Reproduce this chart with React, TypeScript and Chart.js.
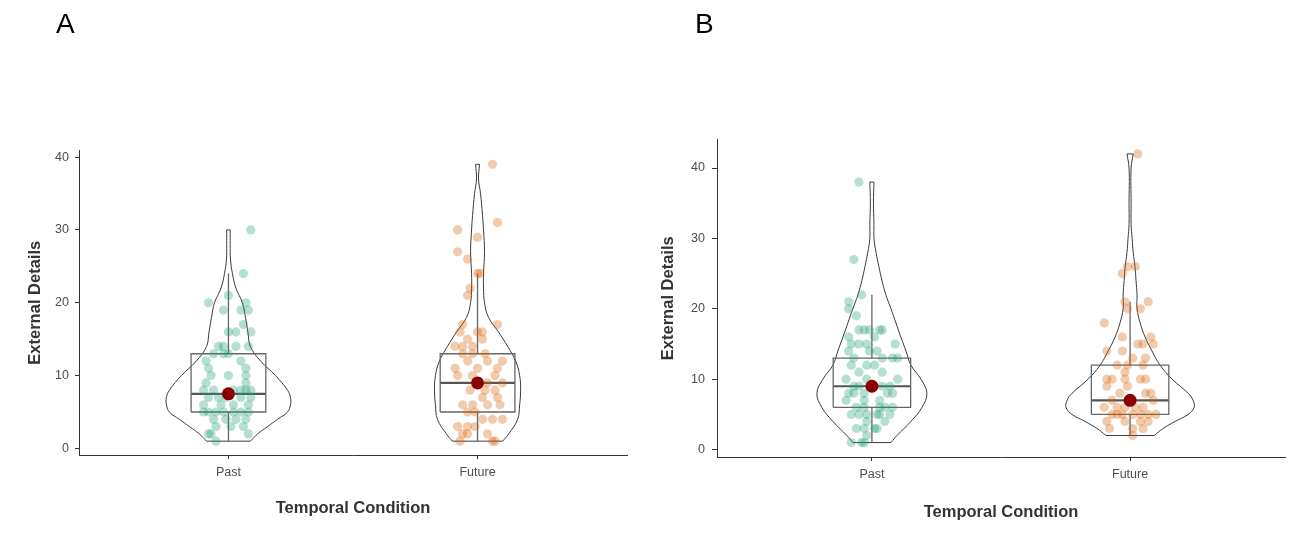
import React, { useEffect, useRef } from 'react';
import { Chart, registerables } from 'chart.js';

Chart.register(...registerables);

// ---------- data ----------
const categories = ['Past', 'Future'];
const yTicks = [0, 10, 20, 30, 40];

// Panel A – Past
const pastAValues = [30, 24, 21, 20, 20, 19, 19, 19, 17, 16, 16, 16, 14, 14, 14, 14, 13, 13, 13, 12, 12, 11, 11, 10, 10, 10, 9, 9, 8, 8, 8, 8, 8, 8, 7, 7, 7, 7, 7, 6, 6, 6, 6, 5, 5, 5, 5, 5, 5, 5, 4, 4, 4, 4, 3, 3, 3, 2, 2, 2, 1];
const pastAJitter = [0.09, 0.06, 0.0, -0.08, 0.07, -0.02, 0.08, 0.05, 0.06, 0.0, 0.03, 0.09, -0.04, -0.02, 0.03, 0.08, -0.06, -0.02, 0.0, -0.09, 0.05, -0.08, 0.07, -0.07, 0.0, 0.07, -0.09, 0.07, -0.1, -0.06, 0.02, 0.05, 0.07, 0.09, -0.08, -0.04, -0.01, 0.05, 0.09, -0.1, -0.03, 0.02, 0.08, -0.1, -0.08, -0.05, -0.02, 0.02, 0.05, 0.08, -0.06, -0.01, 0.03, 0.07, -0.05, 0.01, 0.06, -0.08, -0.07, 0.08, -0.05];
const pastABox = [1, 5, 7.5, 13, 24]; // low whisker, Q1, median, Q3, high whisker
const pastAMean = 7.5;
const pastAViolinY = [1, 2, 3, 4, 5, 6, 7, 8, 10, 12, 14, 16, 18, 20, 22, 24, 26, 28, 30];
const pastAViolinW = [0.088, 0.117, 0.157, 0.197, 0.237, 0.249, 0.249, 0.237, 0.189, 0.129, 0.088, 0.078, 0.068, 0.056, 0.03, 0.016, 0.008, 0.007, 0.007];

// Panel A – Future
const futureAValues = [39, 31, 30, 29, 27, 26, 24, 24, 22, 21, 17, 17, 16, 16, 16, 15, 15, 14, 14, 14, 13, 13, 13, 12, 12, 12, 11, 11, 11, 10, 10, 10, 9, 9, 8, 8, 8, 7, 7, 6, 6, 6, 6, 5, 5, 4, 4, 4, 3, 3, 3, 2, 2, 2, 1, 1, 1];
const futureAJitter = [0.06, 0.08, -0.08, 0.0, -0.08, -0.04, 0.0, 0.01, -0.03, -0.04, 0.08, -0.06, -0.07, 0.0, 0.02, -0.04, 0.02, -0.09, -0.06, -0.02, -0.06, -0.02, 0.03, -0.04, 0.04, 0.1, -0.09, 0.0, 0.08, -0.08, -0.02, 0.07, 0.04, 0.1, -0.03, 0.03, 0.07, 0.02, 0.08, -0.06, -0.02, 0.04, 0.09, -0.04, -0.01, 0.02, 0.06, 0.1, -0.08, -0.04, -0.01, -0.06, -0.04, 0.04, -0.07, 0.06, 0.07];
const futureABox = [1, 5, 9, 13, 24];
const futureAMean = 9;
const futureAViolinY = [1, 2, 4, 6, 8, 10, 12, 14, 16, 18, 20, 22, 24, 27, 30, 32, 35, 37, 39];
const futureAViolinW = [0.101, 0.125, 0.161, 0.169, 0.173, 0.169, 0.153, 0.121, 0.084, 0.044, 0.028, 0.024, 0.024, 0.028, 0.024, 0.02, 0.012, 0.004, 0.008];

// Panel B – Past
const pastBValues = [38, 27, 22, 21, 20, 19, 17, 17, 17, 17, 17, 16, 16, 15, 15, 15, 15, 14, 14, 14, 13, 13, 13, 13, 12, 12, 12, 11, 11, 10, 10, 10, 9, 9, 9, 9, 8, 8, 8, 8, 8, 7, 7, 7, 6, 6, 6, 6, 6, 5, 5, 5, 5, 5, 5, 4, 4, 3, 3, 3, 3, 2, 1, 1, 1];
const pastBJitter = [-0.05, -0.07, -0.04, -0.09, -0.09, -0.06, -0.05, -0.03, -0.01, 0.03, 0.04, -0.09, 0.01, -0.08, -0.05, -0.02, 0.09, -0.09, 0.02, -0.01, -0.07, 0.04, 0.08, 0.1, -0.08, 0.01, -0.02, -0.05, 0.04, -0.1, -0.02, 0.1, 0.04, -0.05, -0.07, 0.07, -0.09, -0.07, 0.06, 0.08, -0.03, -0.1, -0.03, 0.03, -0.06, 0.08, -0.03, 0.03, 0.05, -0.08, -0.05, 0.02, 0.03, 0.07, -0.02, -0.02, 0.05, -0.03, 0.01, 0.02, -0.06, -0.02, -0.08, -0.04, -0.03];
const pastBBox = [1, 6, 9, 13, 22];
const pastBMean = 9;
const pastBViolinY = [1, 2, 4, 6, 8, 10, 12, 14, 16, 18, 20, 22, 24, 26, 28, 30, 32, 35, 38];
const pastBViolinW = [0.074, 0.097, 0.151, 0.194, 0.213, 0.19, 0.151, 0.132, 0.112, 0.093, 0.074, 0.054, 0.039, 0.027, 0.016, 0.008, 0.008, 0.006, 0.008];

// Panel B – Future
const futureBValues = [42, 26, 26, 25, 21, 21, 20, 20, 18, 16, 16, 15, 15, 15, 14, 14, 13, 13, 12, 12, 12, 11, 10, 10, 10, 10, 10, 9, 9, 8, 8, 8, 7, 7, 6, 6, 6, 6, 6, 5, 5, 5, 5, 5, 5, 5, 4, 4, 4, 4, 3, 3, 3, 2];
const futureBJitter = [0.03, -0.01, 0.02, -0.03, -0.02, 0.07, -0.01, 0.04, -0.1, -0.03, 0.08, 0.03, 0.05, 0.09, -0.09, -0.03, 0.01, 0.06, -0.05, -0.01, 0.05, -0.02, -0.09, -0.07, -0.02, 0.04, 0.06, -0.09, -0.01, -0.04, 0.06, 0.08, -0.07, 0.09, -0.1, -0.02, 0.05, 0.02, -0.05, -0.07, -0.05, -0.03, 0.01, 0.07, 0.1, 0.04, -0.09, -0.02, 0.07, 0.04, -0.08, 0.01, 0.05, 0.01];
const futureBBox = [2, 5, 7, 12, 21];
const futureBMean = 7;
const futureBViolinY = [2, 3, 4, 5, 6, 7, 8, 10, 12, 14, 16, 18, 20, 22, 24, 26, 28, 30, 32, 35, 40, 42];
const futureBViolinW = [0.093, 0.128, 0.174, 0.225, 0.248, 0.244, 0.225, 0.163, 0.116, 0.085, 0.058, 0.039, 0.027, 0.027, 0.023, 0.019, 0.012, 0.008, 0.004, 0.004, 0.004, 0.012];

// ---------- styles ----------
const PAST_COLOR = 'rgba(27,158,119,0.33)';
const FUTURE_COLOR = 'rgba(217,95,2,0.33)';
const MEAN_COLOR = '#8B0000';
const LINE_COLOR = '#3a3a3a';
const BOX_COLOR = '#666666';
const BOX_HALF = 0.15;
const FONT = '"Liberation Sans", Arial, Helvetica, sans-serif';

type Group = {
  values: number[];
  jitter: number[];
  box: number[];
  mean: number;
  vY: number[];
  vW: number[];
  color: string;
};

function line(points: { x: number; y: number }[], color: string, width: number, tension: number, order: number) {
  return {
    data: points,
    showLine: true,
    pointRadius: 0,
    borderColor: color,
    borderWidth: width,
    backgroundColor: 'transparent',
    fill: false,
    tension,
    order,
  };
}

function groupDatasets(g: Group, c: number) {
  const n = g.vY.length;
  const right = g.vY.map((y, i) => ({ x: c + g.vW[i], y }));
  const left = g.vY.map((y, i) => ({ x: c - g.vW[i], y }));
  const [lo, q1, med, q3, hi] = g.box;
  return [
    line(right, LINE_COLOR, 1, 0.4, 5),
    line(left, LINE_COLOR, 1, 0.4, 5),
    line([left[0], right[0]], LINE_COLOR, 1, 0, 5),
    line([left[n - 1], right[n - 1]], LINE_COLOR, 1, 0, 5),
    line(
      [
        { x: c - BOX_HALF, y: q1 },
        { x: c + BOX_HALF, y: q1 },
        { x: c + BOX_HALF, y: q3 },
        { x: c - BOX_HALF, y: q3 },
        { x: c - BOX_HALF, y: q1 },
      ],
      BOX_COLOR, 1.3, 0, 3
    ),
    line([{ x: c - BOX_HALF, y: med }, { x: c + BOX_HALF, y: med }], '#555555', 2.2, 0, 3),
    line([{ x: c, y: q3 }, { x: c, y: hi }], BOX_COLOR, 1.3, 0, 3),
    line([{ x: c, y: lo }, { x: c, y: q1 }], BOX_COLOR, 1.3, 0, 3),
    {
      data: g.values.map((v, i) => ({ x: c + g.jitter[i], y: v })),
      pointRadius: 4.6,
      pointBackgroundColor: g.color,
      pointBorderWidth: 0,
      borderWidth: 0,
      showLine: false,
      order: 1,
    },
    {
      data: [{ x: c, y: g.mean }],
      pointRadius: 6.5,
      pointBackgroundColor: MEAN_COLOR,
      pointBorderWidth: 0,
      showLine: false,
      order: 0,
    },
  ];
}

type Geom = {
  left: number;
  width: number;
  padRight: number;
  padTop: number;
  yAxisWidth: number;
  xAxisHeight: number;
  yTitlePad: number;
  xTitlePad: number;
  yTickLen: number;
  yTickPad: number;
  xTickPad: number;
  labelX: number;
  yMin: number;
  yMax: number;
};

function Panel({ label, groups, geom }: { label: string; groups: Group[]; geom: Geom }) {
  const ref = useRef<HTMLCanvasElement>(null);
  useEffect(() => {
    if (!ref.current) return;
    const datasets: any[] = [];
    groups.forEach((g, i) => datasets.push(...groupDatasets(g, i + 1)));
    const labelPlugin = {
      id: 'panelLabel',
      afterDraw(chart: any) {
        const ctx = chart.ctx;
        ctx.save();
        ctx.font = `28px ${FONT}`;
        ctx.fillStyle = '#000';
        ctx.textBaseline = 'alphabetic';
        ctx.textAlign = 'left';
        ctx.fillText(label, geom.labelX, 33);
        ctx.restore();
      },
    };
    const chart = new Chart(ref.current, {
      type: 'scatter',
      data: { datasets },
      options: {
        responsive: false,
        animation: false,
        events: [],
        layout: { padding: { left: 0, right: geom.padRight, top: geom.padTop, bottom: 0 } },
        plugins: { legend: { display: false }, tooltip: { enabled: false } },
        scales: {
          x: {
            type: 'linear',
            min: 0.4,
            max: 2.6,
            afterBuildTicks: (s: any) => {
              s.ticks = categories.map((_, i) => ({ value: i + 1 }));
            },
            afterFit: (s: any) => {
              s.height = geom.xAxisHeight;
            },
            ticks: {
              callback: (v: any) => categories[Math.round(Number(v)) - 1] ?? '',
              color: '#4d4d4d',
              font: { size: 12.5, family: FONT },
              padding: geom.xTickPad,
              maxRotation: 0,
              autoSkip: false,
            },
            grid: { drawOnChartArea: false, drawTicks: true, tickLength: 4, color: '#333', lineWidth: 1 },
            border: { display: true, color: '#333', width: 1 },
            title: {
              display: true,
              text: 'Temporal Condition',
              color: '#333',
              font: { size: 16.5, weight: 'bold', family: FONT },
              padding: { top: 0, bottom: geom.xTitlePad },
            },
          },
          y: {
            type: 'linear',
            min: geom.yMin,
            max: geom.yMax,
            afterBuildTicks: (s: any) => {
              s.ticks = yTicks.map((v) => ({ value: v }));
            },
            afterFit: (s: any) => {
              s.width = geom.yAxisWidth;
            },
            ticks: {
              color: '#4d4d4d',
              font: { size: 12.5, family: FONT },
              padding: geom.yTickPad,
            },
            grid: { drawOnChartArea: false, drawTicks: true, tickLength: geom.yTickLen, color: '#333', lineWidth: 1 },
            border: { display: true, color: '#333', width: 1 },
            title: {
              display: true,
              text: 'External Details',
              color: '#333',
              font: { size: 16.5, weight: 'bold', family: FONT },
              padding: { top: geom.yTitlePad, bottom: 0 },
            },
          },
        },
      } as any,
      plugins: [labelPlugin],
    });
    return () => chart.destroy();
  }, []);
  return (
    <canvas
      ref={ref}
      width={geom.width}
      height={537}
      style={{ position: 'absolute', left: geom.left, top: 0, width: geom.width, height: 537, display: 'block' }}
    />
  );
}

const groupsA: Group[] = [
  { values: pastAValues, jitter: pastAJitter, box: pastABox, mean: pastAMean, vY: pastAViolinY, vW: pastAViolinW, color: PAST_COLOR },
  { values: futureAValues, jitter: futureAJitter, box: futureABox, mean: futureAMean, vY: futureAViolinY, vW: futureAViolinW, color: FUTURE_COLOR },
];
const groupsB: Group[] = [
  { values: pastBValues, jitter: pastBJitter, box: pastBBox, mean: pastBMean, vY: pastBViolinY, vW: pastBViolinW, color: PAST_COLOR },
  { values: futureBValues, jitter: futureBJitter, box: futureBBox, mean: futureBMean, vY: futureBViolinY, vW: futureBViolinW, color: FUTURE_COLOR },
];

const geomA: Geom = {
  left: 0, width: 654, padRight: 27, padTop: 150.5, yAxisWidth: 79, xAxisHeight: 82,
  yTitlePad: 25.1, xTitlePad: 19.1, yTickLen: 4, yTickPad: 6, xTickPad: 6, labelX: 56, yMin: -0.9, yMax: 40.9,
};
const geomB: Geom = {
  left: 654, width: 655, padRight: 24, padTop: 139.5, yAxisWidth: 63, xAxisHeight: 80,
  yTitlePad: 4.1, xTitlePad: 15.1, yTickLen: 5, yTickPad: 7, xTickPad: 6, labelX: 41, yMin: -1.05, yMax: 44.05,
};

export default function App() {
  return (
    <div style={{ position: 'absolute', left: 0, top: 0, width: 1309, height: 537, background: '#fff', overflow: 'hidden' }}>
      <Panel label="A" groups={groupsA} geom={geomA} />
      <Panel label="B" groups={groupsB} geom={geomB} />
    </div>
  );
}
